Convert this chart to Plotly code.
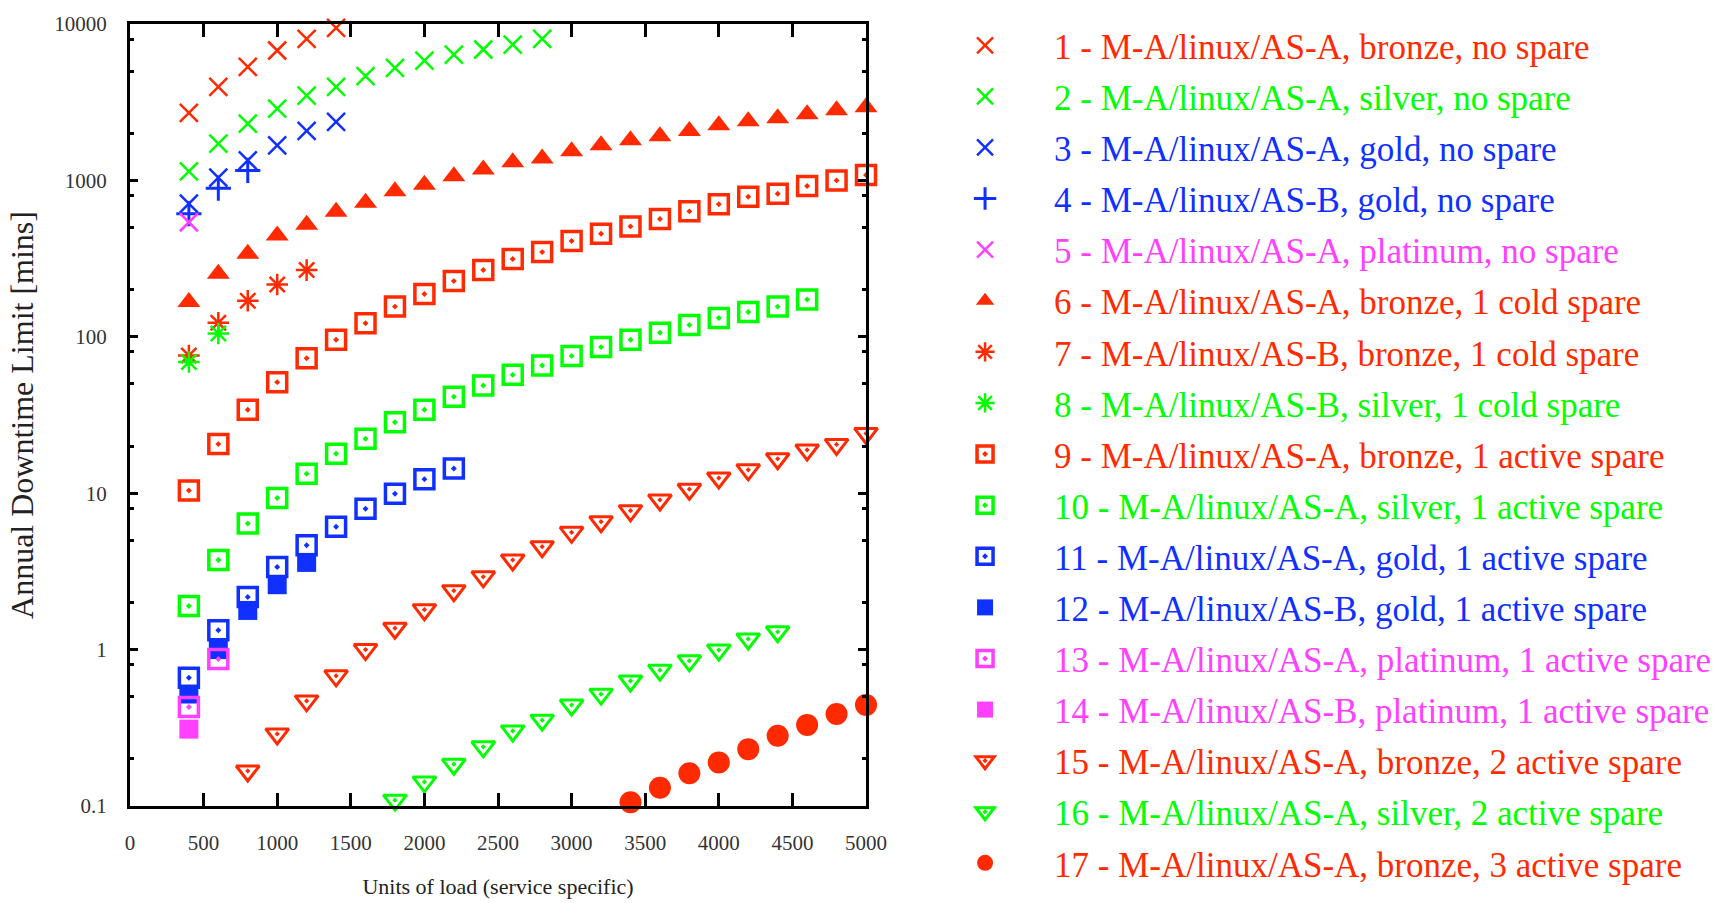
import plotly.graph_objects as go

# Load levels (units of load, service specific)
loads = [400, 600, 800, 1000, 1200, 1400, 1600, 1800, 2000, 2200, 2400, 2600,
         2800, 3000, 3200, 3400, 3600, 3800, 4000, 4200, 4400, 4600, 4800, 5000]

# Annual downtime limit [mins] per configuration; each series starts at its own load
s1_start, s1 = 400, [2700, 3960, 5320, 6770, 8040, 9460]
s2_start, s2 = 400, [1142, 1718, 2307, 2878, 3485, 3960, 4635, 5250, 5840, 6380, 6870, 7390, 8040]
s3_start, s3 = 400, [710, 1040, 1343, 1675, 2072, 2366]
s4_start, s4 = 400, [612, 892, 1158]
s5_start, s5 = 400, [540]
s6_start, s6 = 400, [167, 253, 340, 445, 521, 631, 720, 851, 939, 1062, 1172, 1304,
                     1383, 1534, 1676, 1803, 1914, 2072, 2249, 2388, 2496, 2650, 2808, 2932]
s7_start, s7 = 400, [76, 123, 170, 216, 267]
s8_start, s8 = 400, [69, 105]
s9_start, s9 = 400, [10.4, 20.6, 34.2, 51.3, 73, 95.7, 122, 156, 188, 227, 267, 314,
                     348, 410, 456, 508, 566, 634, 703, 787, 822, 921, 1000, 1083]
s10_start, s10 = 400, [1.9, 3.74, 6.41, 9.32, 13.3, 17.9, 22.3, 28.4, 34.2, 41.4, 48.8,
                       57.1, 65.5, 75.5, 85.9, 95.7, 106, 119, 132, 144, 156, 173]
s11_start, s11 = 400, [0.66, 1.33, 2.17, 3.37, 4.65, 6.1, 7.96, 9.93, 12.3, 14.4]
s12_start, s12 = 400, [0.52, 1.0, 1.78, 2.6, 3.61]
s13_start, s13 = 400, [0.43, 0.87]
s14_start, s14 = 400, [0.31]
s15_start, s15 = 800, [0.1675, 0.289, 0.47, 0.68, 1.0, 1.37, 1.8, 2.38, 2.92, 3.74, 4.55,
                       5.62, 6.57, 7.73, 9.05, 10.6, 12.5, 14.1, 16.6, 18.9, 20.5, 24.1]
s16_start, s16 = 1800, [0.109, 0.1426, 0.185, 0.239, 0.302, 0.354, 0.442, 0.519, 0.63,
                        0.739, 0.848, 0.993, 1.17, 1.3]
s17_start, s17 = 3400, [0.1057, 0.131, 0.162, 0.19, 0.231, 0.281, 0.33, 0.388, 0.443]

names = [
    "1 - M-A/linux/AS-A, bronze, no spare",
    "2 - M-A/linux/AS-A, silver, no spare",
    "3 - M-A/linux/AS-A, gold, no spare",
    "4 - M-A/linux/AS-B, gold, no spare",
    "5 - M-A/linux/AS-A, platinum, no spare",
    "6 - M-A/linux/AS-A, bronze, 1 cold spare",
    "7 - M-A/linux/AS-B, bronze, 1 cold spare",
    "8 - M-A/linux/AS-B, silver, 1 cold spare",
    "9 - M-A/linux/AS-A, bronze, 1 active spare",
    "10 - M-A/linux/AS-A, silver, 1 active spare",
    "11 - M-A/linux/AS-A, gold, 1 active spare",
    "12 - M-A/linux/AS-B, gold, 1 active spare",
    "13 - M-A/linux/AS-A, platinum, 1 active spare",
    "14 - M-A/linux/AS-B, platinum, 1 active spare",
    "15 - M-A/linux/AS-A, bronze, 2 active spare",
    "16 - M-A/linux/AS-A, silver, 2 active spare",
    "17 - M-A/linux/AS-A, bronze, 3 active spare",
]

x_ticks = [0, 500, 1000, 1500, 2000, 2500, 3000, 3500, 4000, 4500, 5000]
y_ticks = [0.1, 1, 10, 100, 1000, 10000]
y_ticktext = ["0.1", "1", "10", "100", "1000", "10000"]
y_minor = [m * 10 ** e for e in range(-1, 4) for m in (2, 5, 8)]

RED = "#ff2a00"
GREEN = "#00ff00"
BLUE = "#1030ff"
MAGENTA = "#ff40ff"

series = [
    (s1_start, s1, RED, "x-thin-open", 18, 2.5),
    (s2_start, s2, GREEN, "x-thin-open", 18, 2.5),
    (s3_start, s3, BLUE, "x-thin-open", 18, 2.5),
    (s4_start, s4, BLUE, "cross-thin-open", 18, 3),
    (s5_start, s5, MAGENTA, "x-thin-open", 18, 2.5),
    (s6_start, s6, RED, "triangle-up", 20, 0),
    (s7_start, s7, RED, "asterisk-open", 18, 2.5),
    (s8_start, s8, GREEN, "asterisk-open", 18, 2.5),
    (s9_start, s9, RED, "square-open-dot", 19, 3.5),
    (s10_start, s10, GREEN, "square-open-dot", 19, 3.5),
    (s11_start, s11, BLUE, "square-open-dot", 19, 3.5),
    (s12_start, s12, BLUE, "square", 19, 0),
    (s13_start, s13, MAGENTA, "square-open-dot", 19, 3.5),
    (s14_start, s14, MAGENTA, "square", 19, 0),
    (s15_start, s15, RED, "triangle-down-open-dot", 20, 3),
    (s16_start, s16, GREEN, "triangle-down-open-dot", 20, 3),
    (s17_start, s17, RED, "circle", 22, 0),
]

fig = go.Figure()
for i, (start, vals, color, symbol, size, lw) in enumerate(series):
    i0 = loads.index(start)
    xs = loads[i0:i0 + len(vals)]
    fig.add_trace(go.Scatter(
        x=xs, y=vals, mode="markers",
        name=f'<span style="color:{color}">{names[i]}</span>',
        legendgroup=f"g{i + 1}",
        marker=dict(symbol=symbol, size=size, color=color,
                    line=dict(color=color, width=lw)),
        cliponaxis=False,
    ))

axis_font = dict(family="Liberation Serif", size=21, color="#333333")

fig.update_layout(
    width=1722, height=903,
    margin=dict(l=130, r=856, t=24, b=97, autoexpand=False),
    paper_bgcolor="white", plot_bgcolor="white",
    showlegend=True,
    legend=dict(
        x=1.068, xanchor="left", y=1.0102, yanchor="top",
        font=dict(family="Liberation Serif", size=35),
        itemwidth=128, tracegroupgap=2.6, maxheight=900,
        bgcolor="rgba(0,0,0,0)", borderwidth=0,
    ),
    xaxis=dict(
        range=[0, 5000], tickvals=x_ticks, ticks="inside", ticklen=13, tickwidth=3,
        tickcolor="black", showline=True, linewidth=3, linecolor="black",
        mirror="allticks", showgrid=False, zeroline=False,
        tickfont=axis_font, ticklabelstandoff=16,
        title=dict(text="Units of load (service specific)",
                   font=dict(family="Liberation Serif", size=22, color="#222222"),
                   standoff=25),
    ),
    yaxis=dict(
        type="log", range=[-1, 4], tickvals=y_ticks, ticktext=y_ticktext,
        ticks="inside", ticklen=8, tickwidth=3, tickcolor="black",
        showline=True, linewidth=3, linecolor="black", mirror="allticks",
        showgrid=False, zeroline=False,
        tickfont=axis_font, ticklabelstandoff=16,
        minor=dict(tickvals=y_minor, ticks="inside", ticklen=4, tickwidth=3,
                   tickcolor="black", showgrid=False),
        title=dict(text="Annual Downtime Limit [mins]",
                   font=dict(family="Liberation Serif", size=32, color="#222222"),
                   standoff=12),
    ),
)

fig.write_html("out.html")
